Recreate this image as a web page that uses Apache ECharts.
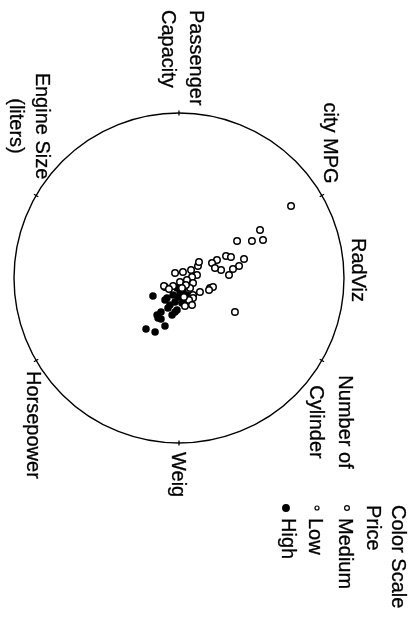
<!DOCTYPE html>
<html><head><meta charset="utf-8">
<script src="https://cdn.jsdelivr.net/npm/echarts@6/dist/echarts.min.js"></script>
<style>html,body{margin:0;padding:0;background:#fff;}#c{width:417px;height:622px;}</style>
</head><body><div id="c"></div>
<script>
// ---- data (RadViz plane, x right, y up; unit circle = anchor ring) ----
const anchorNames = ['Passenger\nCapacity', 'city MPG', 'Number of\nCylinder', 'Weig', 'Horsepower', 'Engine Size\n(liters)'];
const anchorAngles = [90, 30, -30, -90, -150, 150];
const priceClasses = ['Medium', 'Low', 'High'];
const chartTitle = 'RadViz';
const legendTitle = ['Color Scale', 'Price'];

const lowPoints = [
  [0.679, 0.436], [0.491, 0.291], [0.352, 0.224], [0.442, 0.224], [0.509, 0.230],
  [0.285, 0.133], [0.315, 0.127], [0.394, 0.115], [0.230, 0.109], [0.200, 0.091],
  [0.364, 0.073], [0.327, 0.055], [0.255, 0.048], [0.218, 0.061], [0.303, 0.018],
  [0.339, -0.206]
];
const mediumPoints = [
  [0.115, 0.073], [0.121, 0.097], [0.073, 0.048], [0.024, 0.036], [-0.024, 0.030],
  [0.109, 0.018], [0.079, 0.006], [0.048, -0.012], [0.006, -0.024], [-0.036, -0.048],
  [-0.085, -0.055], [0.085, -0.030], [0.067, -0.061], [0.085, -0.103], [0.127, -0.085],
  [0.188, -0.061], [0.206, -0.055], [0.067, -0.152], [0.085, -0.121], [0.061, -0.133],
  [0.079, -0.164], [0.042, -0.042], [0.018, -0.061], [0.182, -0.073], [0.030, -0.115],
  [0.036, -0.170], [-0.091, -0.048], [-0.061, -0.067]
];
const highPoints = [
  [-0.158, -0.109], [-0.200, -0.309], [-0.145, -0.327], [-0.085, -0.291], [-0.133, -0.224],
  [-0.127, -0.242], [-0.109, -0.248], [-0.085, -0.133], [-0.067, -0.182], [-0.042, -0.224],
  [-0.036, -0.103], [-0.012, -0.061], [0.006, -0.091], [0.024, -0.073], [0.048, -0.103],
  [-0.024, -0.145], [0.018, -0.152], [-0.012, -0.194], [-0.055, -0.164], [-0.006, -0.115],
  [0.036, -0.133], [-0.109, -0.206], [-0.073, -0.121], [-0.024, -0.206]
];

// ---- chart ----
const FONT = '20px "Liberation Sans", Arial, sans-serif';
const chart = echarts.init(document.getElementById('c'));

function ring(params, api) {
  const c = api.coord([0, 0]);
  const e = api.coord([1, 0]);
  return { type: 'circle', shape: { cx: c[0], cy: c[1], r: e[0] - c[0] },
           style: { fill: 'none', stroke: '#000', lineWidth: 1.4 } };
}
function tick(params, api) {
  const a = api.value(2) * Math.PI / 180;
  const p = api.coord([api.value(0), api.value(1)]);
  const dx = Math.cos(a) * 2.5, dy = -Math.sin(a) * 2.5;
  return { type: 'line', shape: { x1: p[0] - dx, y1: p[1] - dy, x2: p[0] + dx, y2: p[1] + dy },
           style: { stroke: '#000', lineWidth: 1.3 } };
}
const anchorData = anchorAngles.map(a => [Math.cos(a * Math.PI / 180), Math.sin(a * Math.PI / 180), a]);

function rotText(text, cx, y, align) {
  return { type: 'text', x: cx, y: y, rotation: -Math.PI / 2, silent: true,
    style: { text: text, font: FONT, fill: '#000', stroke: '#000', lineWidth: 0.3,
             align: align, verticalAlign: 'middle', textAlign: align, textVerticalAlign: 'middle' } };
}
function lines(name) { return name.split('\n'); }

const graphics = [];
const labelLayout = [
  { xs: [196, 168], y: 10, align: 'left' },
  { xs: [330], y: 143, align: 'center' },
  { xs: [345, 316], y: 422, align: 'center' },
  { xs: [178], y: 452, align: 'left' },
  { xs: [33], y: 371, align: 'left' },
  { xs: [42, 16], y: 126, align: 'center' }
];
anchorNames.forEach((n, i) => {
  const L = labelLayout[i];
  lines(n).forEach((t, j) => graphics.push(rotText(t, L.xs[j], L.y, L.align)));
});
graphics.push(rotText(chartTitle, 358, 270, 'center'));
graphics.push(rotText(legendTitle[0], 398, 505, 'left'));
graphics.push(rotText(legendTitle[1], 373, 505, 'left'));
const legendX = [345, 315, 288];
const legendMarkX = [347, 317, 286];
const legendMark = [
  { r: 2.4, fill: '#fff', stroke: '#000' },
  { r: 2.0, fill: '#fff', stroke: '#000' },
  { r: 3.3, fill: '#000', stroke: '#000' }
];
priceClasses.forEach((c, i) => {
  graphics.push({ type: 'circle', shape: { cx: legendMarkX[i], cy: 508, r: legendMark[i].r },
    style: { fill: legendMark[i].fill, stroke: legendMark[i].stroke, lineWidth: 1.2 } });
  graphics.push(rotText(c, legendX[i], 518, 'left'));
});

const openStyle = { color: '#fff', borderColor: '#000', borderWidth: 1.5, opacity: 1 };
chart.setOption({
  animation: false,
  backgroundColor: '#fff',
  grid: { left: 14, top: 113, width: 330, height: 330 },
  xAxis: { type: 'value', min: -1, max: 1, show: false },
  yAxis: { type: 'value', min: -1, max: 1, show: false },
  series: [
    { type: 'custom', renderItem: ring, data: [[0, 0]], silent: true, encode: { x: 0, y: 1 } },
    { type: 'custom', renderItem: tick, data: anchorData, silent: true, encode: { x: 0, y: 1 } },
    { type: 'scatter', name: 'High', data: highPoints, symbolSize: 7.5, itemStyle: { color: '#000', opacity: 1 } },
    { type: 'scatter', name: 'Medium', data: mediumPoints, symbolSize: 6.5, itemStyle: openStyle },
    { type: 'scatter', name: 'Low', data: lowPoints, symbolSize: 6.5, itemStyle: openStyle }
  ],
  graphic: graphics
});
</script></body></html>
